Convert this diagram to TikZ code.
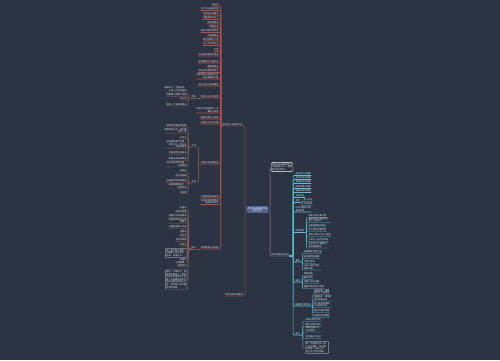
\documentclass[tikz,border=0pt]{standalone}
\usepackage{fontspec}
\newfontfamily\cjk{Noto Sans CJK SC}
\definecolor{bgc}{RGB}{44,52,67}
\definecolor{rootc}{RGB}{84,101,148}
\definecolor{txtc}{RGB}{225,228,235}
\definecolor{trkL}{RGB}{112,72,78}
\definecolor{trkR}{RGB}{98,94,114}
\definecolor{redc}{RGB}{186,76,68}
\definecolor{brnc}{RGB}{158,96,78}
\definecolor{cyc}{RGB}{86,196,208}
\tikzset{
    txt/.style={font=\cjk\fontsize{2.2}{2.6}\selectfont, text=txtc, inner xsep=.3pt, inner ysep=.4pt},
    lleaf/.style={txt, anchor=south east, align=right},
    rleaf/.style={txt, anchor=south west, align=left},
    lnote/.style={txt, anchor=east, align=left, draw=txtc!55, line width=.2pt, rounded corners=.6pt, inner sep=.8pt},
    rnote/.style={txt, anchor=west, align=left, draw=txtc!55, line width=.2pt, rounded corners=.6pt, inner sep=.8pt},
    trunk/.style={line width=.8pt, rounded corners=1.5pt},
    bus/.style={line width=.7pt, rounded corners=1pt},
    twig/.style={line width=.4pt, rounded corners=.8pt}
}
\begin{document}
\begin{tikzpicture}[x=1pt, y=-1pt]
\useasboundingbox[fill=bgc] (0,0) rectangle (500,360);
\node[txt, fill=rootc, text=white, rounded corners=.8pt, align=center, inner sep=1pt] (root) at (257.5,209.5) {作文开头结尾的写法\\技巧大全};

\begin{scope}
    \node[lleaf] (A) at (243,126) {常见开头与结尾方法};
    \node[lleaf] (B) at (243,296) {写作中的注意事项};
    \draw[trunk, trkL] (root.west) -- ++(-1.5,0) |- (A.south east) -- (A.south west);
    \draw[trunk, trkL] (root.west) -- ++(-1.5,0) |- (B.south east) -- (B.south west);
    \foreach \yy/\txt [count=\i] in {6/开头法, 10.5/开门见山直接点题, 15/引用名言开篇法, 19.5/设置悬念吸引人, 24/描写景物法, 28/抒情开头, 32.5/提出问题引发思考, 37/巧用修辞法, 41/回忆往事引入法, 45.5/以小见大的开头, 51.5/示例, 56/开头简洁明快不拖沓, 63/紧扣题目中心展开写, 68/首尾要呼应, 72.5/语言生动富有感染力, 79/{运用排比句式增强气势\\使文章更有力量}, 86/开头不宜过长过繁琐, 98/常见开头方式举例, 113/{好的开头是成功的一半\\要用心构思}, 119/结尾点明中心思想, 124/总结全文升华主题, 164/优秀开头结尾范例, 198/注意前后衔接自然, 204.5/{多读多写积累素材\\提高写作水平}, 249/常用结尾方法归纳}{
        \node[lleaf] (a\i) at (219,\yy) {\txt};
        \draw[bus, redc] (A.south west) -- ++(-1.5,0) |- (a\i.south east) -- (a\i.south west);
    }

    \node[lleaf] (a18x) at (196.5,98) {例如};
    \draw[twig, brnc] (a18.south west) -- (a18x.south east) -- (a18x.south west);
    \foreach \yy/\txt [count=\i] in {92/{春天来了，万物复苏，\\大地一片生机勃勃}, 96.5/清晨阳光洒满了校园, 100.5/开头句, 106/那是一个难忘的夏天}{
        \node[lleaf] (b\i) at (187,\yy) {\txt};
        \draw[twig, brnc] (a18x.south west) -- ++(-3,0) |- (b\i.south east) -- (b\i.south west);
    }

    \node[lleaf] (a22a) at (196.5,147) {方法};
    \node[lleaf] (a22b) at (196.5,183) {注意};
    \draw[twig, brnc] (a22.south west) -- ++(-2,0) |- (a22a.south east) -- (a22a.south west);
    \draw[twig, brnc] (a22.south west) -- ++(-2,0) |- (a22b.south east) -- (a22b.south west);
    \foreach \yy/\txt [count=\i] in {127/首尾呼应使结构完整, 133.5/{结尾照应开头，使文章\\浑然一体}, 139/升华法, 148.5/{在结尾处揭示主题，\\深化中心，给人以\\启迪和思考}, 154.5/抒发感情式结尾法, 160.5/展望未来充满希望, 167/{用名言警句作结尾，\\言简意赅}}{
        \node[lleaf] (c\i) at (187,\yy) {\txt};
        \draw[twig, brnc] (a22a.south west) -- ++(-3,0) |- (c\i.south east) -- (c\i.south west);
    }
    \foreach \yy/\txt [count=\i] in {172/忌拖沓, 177/忌空洞说教, 182.5/忌画蛇添足草草收尾, 189/{结尾要简短有力，\\留有余味}, 194/忌离题}{
        \node[lleaf] (d\i) at (187,\yy) {\txt};
        \draw[twig, brnc] (a22b.south west) -- ++(-3,0) |- (d\i.south east) -- (d\i.south west);
    }

    \node[lleaf] (a25x) at (196.5,249) {技巧};
    \draw[twig, brnc] (a25.south west) -- (a25x.south east) -- (a25x.south west);
    \foreach \yy/\txt [count=\i] in {209/总结式, 213/点题式结尾, 217.5/首尾呼应式结尾法, 223.5/{结尾时回到开头的\\情境中}, 228.5/含蓄结尾耐人寻味, 233/抒情式, 237/议论式, 241.5/号召式结尾, 246/反问式, 261.5/感悟式, 267/{以景结情，\\意境深远}}{
        \node[lleaf] (e\i) at (187,\yy) {\txt};
        \draw[twig, brnc] (a25x.south west) -- ++(-3,0) |- (e\i.south east) -- (e\i.south west);
    }
    \node[lnote] (e12) at (187,253) {例：读书使人明智，\\书籍是人类进步的\\阶梯，多读好书。};
    \node[lnote] (e13) at (187,279.5) {例文：夕阳西下，余\\晖洒在操场上，我们\\依依不舍地离开了校\\园。这段美好的时光\\将永远留在我的记忆\\里，成为我人生中最\\珍贵的财富。};
    \draw[twig, brnc] (a25x.south west) -- ++(-3,0) |- (e12.east);
    \draw[twig, brnc] (a25x.south west) -- ++(-3,0) |- (e13.east);
\end{scope}

\begin{scope}
    \node[txt, anchor=west, align=left, draw=white!85, fill=bgc, line width=.4pt, rounded corners=1.5pt, inner sep=1pt] (R1) at (271,167) {好的开头和结尾能让\\文章增色不少，需要\\我们多加练习。};
    \node[rleaf] (R2) at (271,256) {作文结尾写法技巧};
    \draw[trunk, trkR] (root.east) -- ++(1.5,0) |- (R1.west);
    \draw[trunk, trkR] (root.east) -- ++(1.5,0) |- (R2.south west) -- (R2.south east);
    \foreach \yy/\txt [count=\i] in {175.5/总结全文法结尾, 179.5/点明主旨式结尾, 183.5/首尾照应式结尾, 188.5/抒发感情式结尾, 192.5/展望未来式结尾, 197.5/引用名言, 202.5/举例, 212/{以问句结尾引发\\读者思考}, 232.5/优秀范例, 262/要求, 282/误区, 306/结尾的几种形式, 335/练习}{
        \node[rleaf] (r\i) at (295,\yy) {\txt};
        \draw[bus, cyc] (R2.south east) -- ++(3.5,0) |- (r\i.south west) -- (r\i.south east);
    }

    \foreach \yy/\txt [count=\i] in {201.5/名人名言, 205.5/诗词佳句}{
        \node[rleaf] (s\i) at (303,\yy) {\txt};
        \draw[twig, cyc] (r7.south east) -- ++(1.5,0) |- (s\i.south west) -- (s\i.south east);
    }
    \foreach \yy/\txt [count=\i] in {217.5/家乡的变化真大啊, 222.5/{我相信明天会更美好，\\我们一起努力}, 227/这就是我的好朋友, 231.5/多么美好的童年啊, 236.5/我终于明白了这个道理, 241.5/让我们一起珍惜时间, 248/{这次经历让我懂得了\\坚持就是胜利}}{
        \node[rleaf] (t\i) at (308,\yy) {\txt};
        \draw[twig, cyc] (r9.south east) -- ++(1.6,0) |- (t\i.south west) -- (t\i.south east);
    }
    \foreach \yy/\txt [count=\i] in {253.5/结尾要简洁有力量, 258.5/语言要精炼准确, 263.5/不拖泥带水, 270/{与开头相互呼应，\\结构完整}}{
        \node[rleaf] (u\i) at (303.5,\yy) {\txt};
        \draw[twig, cyc] (r10.south east) -- ++(2,0) |- (u\i.south west) -- (u\i.south east);
    }
    \foreach \yy/\txt [count=\i] in {275.5/草草收尾, 279.5/画蛇添足, 283.5/空喊口号无内容, 288.5/偏离文章的中心思想}{
        \node[rleaf] (v\i) at (303.5,\yy) {\txt};
        \draw[twig, cyc] (r11.south east) -- ++(2,0) |- (v\i.south west) -- (v\i.south east);
    }
    \foreach \yy/\txt [count=\i] in {294.5/{自然结尾，事情\\叙述完了就结束}, 301/{含蓄结尾，给读者\\留下想象空间}, 307.5/{出人意料的结尾，\\令人回味无穷}, 312.5/画龙点睛式结尾, 317.5/归纳总结式结尾}{
        \node[rleaf] (w\i) at (313.5,\yy) {\txt};
        \draw[twig, cyc] (r12.south east) -- ++(1.5,0) |- (w\i.south west) -- (w\i.south east);
    }
    \foreach \yy/\txt [count=\i] in {321.5/多读优秀的范文, 326.5/模仿名家的写法, 332/{积累好词好句，\\学以致用}, 338.5/坚持每天写日记}{
        \node[rleaf] (x\i) at (305,\yy) {\txt};
        \draw[twig, cyc] (r13.south east) -- ++(2.5,0) |- (x\i.south west) -- (x\i.south east);
    }
    \node[rnote] (x5) at (305,347.5) {例：时间像流水一样，\\一去不复返。我们要\\珍惜每一分每一秒，\\努力学习不负青春。};
    \draw[twig, cyc] (r13.south east) -- ++(2.5,0) |- (x5.west);
\end{scope}
\end{tikzpicture}
\end{document}
